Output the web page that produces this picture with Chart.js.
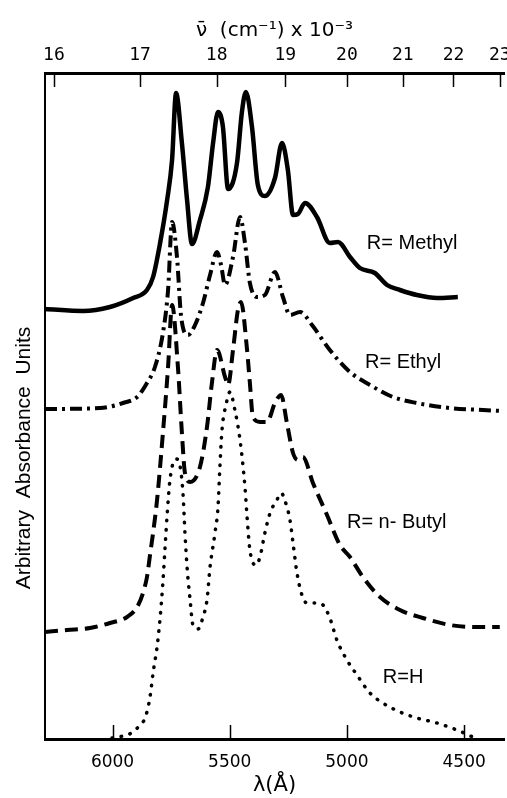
<!DOCTYPE html>
<html>
<head>
<meta charset="utf-8">
<script src="https://cdn.jsdelivr.net/npm/chart.js@4.4.1/dist/chart.umd.min.js"></script>
<style>
  html, body { margin: 0; padding: 0; background: #fff; }
  canvas { display: block; }
</style>
</head>
<body>
<canvas id="spectraChart" width="507" height="798"></canvas>
<script>
// wavelength (Angstrom) and absorbance (arbitrary units, curves are offset)
const methylWl  = [6288, 6126, 6011, 5912, 5853, 5827, 5797, 5767, 5746, 5729, 5704, 5682, 5661, 5627, 5593, 5571, 5550, 5529, 5507, 5469, 5448, 5431, 5405, 5380, 5350, 5307, 5277, 5252, 5230, 5209, 5179, 5128, 5073, 5038, 4987, 4945, 4881, 4829, 4774, 4702, 4616, 4527];
const methylAbs = [43.0, 42.8, 43.2, 44.1, 44.9, 46.2, 49.6, 53.9, 57.9, 64.6, 59.6, 53.9, 49.5, 51.9, 55.2, 59.6, 62.7, 61.2, 55.0, 57.6, 62.7, 64.7, 61.2, 55.4, 54.3, 56.1, 59.6, 56.9, 52.4, 52.5, 53.6, 52.2, 49.6, 49.7, 48.2, 47.1, 46.6, 45.4, 44.9, 44.4, 44.1, 44.2];

const ethylWl  = [6288, 6053, 5955, 5895, 5853, 5819, 5785, 5763, 5746, 5725, 5708, 5678, 5648, 5614, 5584, 5554, 5537, 5520, 5486, 5456, 5435, 5414, 5384, 5350, 5307, 5273, 5243, 5200, 5149, 5073, 4987, 4902, 4804, 4702, 4561, 4420, 4331];
const ethylAbs = [33.0, 33.1, 33.6, 34.2, 35.6, 37.2, 40.6, 44.9, 51.7, 48.2, 42.4, 40.4, 41.4, 43.6, 46.4, 48.7, 47.4, 45.4, 48.2, 52.2, 49.6, 45.6, 44.2, 44.4, 46.7, 44.2, 42.4, 42.7, 41.4, 38.9, 36.7, 35.4, 34.2, 33.6, 33.1, 32.9, 32.8];

const butylWl  = [6288, 6194, 6096, 6011, 5938, 5895, 5870, 5853, 5840, 5827, 5810, 5785, 5763, 5746, 5721, 5704, 5691, 5669, 5627, 5597, 5576, 5554, 5520, 5507, 5486, 5465, 5452, 5426, 5414, 5401, 5371, 5341, 5307, 5281, 5256, 5230, 5209, 5188, 5145, 5085, 5030, 4987, 4932, 4859, 4774, 4676, 4561, 4446, 4348];
const butylAbs = [10.7, 10.9, 11.1, 11.6, 12.2, 13.2, 14.6, 16.2, 18.4, 20.6, 23.9, 30.6, 37.2, 43.4, 37.2, 30.6, 26.6, 25.7, 27.2, 31.2, 35.6, 38.9, 36.2, 35.4, 38.9, 42.9, 43.7, 38.9, 35.6, 32.2, 31.7, 31.7, 33.6, 34.4, 31.6, 28.6, 27.9, 28.2, 25.6, 22.4, 19.4, 18.2, 16.2, 14.2, 12.9, 12.1, 11.4, 11.2, 11.2];

const hydrogenWl  = [6002, 5955, 5912, 5883, 5861, 5840, 5827, 5810, 5797, 5785, 5776, 5767, 5755, 5729, 5712, 5699, 5691, 5682, 5669, 5657, 5635, 5614, 5597, 5584, 5563, 5550, 5542, 5533, 5516, 5499, 5478, 5456, 5435, 5426, 5414, 5388, 5371, 5350, 5328, 5299, 5281, 5256, 5243, 5230, 5213, 5192, 5171, 5128, 5102, 5073, 5043, 5000, 4957, 4902, 4847, 4774, 4702, 4616, 4531, 4454];
const hydrogenAbs = [0.1, 0.3, 0.7, 1.4, 2.1, 4.2, 6.6, 9.2, 12.1, 15.7, 19.1, 22.4, 25.9, 28.0, 27.3, 24.4, 20.6, 17.2, 13.9, 11.4, 11.0, 12.2, 13.9, 17.2, 20.6, 23.2, 27.2, 30.9, 33.4, 34.7, 32.9, 29.9, 25.2, 22.2, 18.9, 17.4, 18.2, 20.6, 22.6, 23.9, 24.6, 23.2, 21.9, 19.6, 16.6, 14.4, 13.6, 13.6, 13.4, 12.1, 9.9, 7.9, 6.4, 4.6, 3.6, 2.7, 2.1, 1.6, 0.9, 0.1];

const curveNames = ['R= Methyl', 'R= Ethyl', 'R= n- Butyl', 'R=H'];
const wavelengthTicks = [6000, 5500, 5000, 4500];          // Angstrom
const wavenumberTicks = [16, 17, 18, 19, 20, 21, 22, 23];  // cm-1 x 10^-3

const toPoints = (xs, ys) => xs.map((x, i) => ({ x: x, y: ys[i] }));
// 10^3 cm-1  <->  Angstrom
const toAngstrom = (k) => 1e5 / k;

// where the curve names sit (wavelength, absorbance of the text's left-middle)
const nameSpots = [[4915, 49.6], [4923, 37.7], [5000, 21.7], [4847, 6.2]];

const decorPlugin = {
    id: 'decor',
    afterDraw(chart) {
        const c = chart.ctx;
        const area = chart.chartArea;
        const xs = chart.scales.x;
        const ys = chart.scales.y;
        c.save();
        c.strokeStyle = '#000';
        c.lineWidth = 1.5;
        // inward tick marks
        wavelengthTicks.forEach(w => {
            const px = Math.round(xs.getPixelForValue(w)) + 0.5;
            c.beginPath();
            c.moveTo(px, area.bottom);
            c.lineTo(px, area.bottom - 14);
            c.stroke();
        });
        wavenumberTicks.forEach(n => {
            const px = Math.round(xs.getPixelForValue(toAngstrom(n))) + 0.5;
            c.beginPath();
            c.moveTo(px, area.top);
            c.lineTo(px, area.top + 14);
            c.stroke();
        });
        // curve names
        c.fillStyle = '#000';
        c.font = '20px "Liberation Sans", Arial, sans-serif';
        c.textAlign = 'left';
        c.textBaseline = 'middle';
        curveNames.forEach((name, i) => {
            c.fillText(name, xs.getPixelForValue(nameSpots[i][0]), ys.getPixelForValue(nameSpots[i][1]));
        });
        // y axis title
        c.translate(24, 458);
        c.rotate(-Math.PI / 2);
        c.textAlign = 'center';
        c.font = '21px "Liberation Sans", Arial, sans-serif';
        c.fillText('Arbitrary  Absorbance  Units', 0, 0);
        c.restore();
    }
};

const ctx = document.getElementById('spectraChart').getContext('2d');

const spectraChart = new Chart(ctx, {
    type: 'line',
    data: {
        datasets: [
            {
                label: curveNames[0],
                data: toPoints(methylWl, methylAbs),
                borderColor: '#000',
                borderWidth: 4.5,
            },
            {
                label: curveNames[1],
                data: toPoints(ethylWl, ethylAbs),
                borderColor: '#000',
                borderWidth: 4,
                borderDash: [12, 5, 3, 5],
            },
            {
                label: curveNames[2],
                data: toPoints(butylWl, butylAbs),
                borderColor: '#000',
                borderWidth: 4,
                borderDash: [13, 7],
            },
            {
                label: curveNames[3],
                data: toPoints(hydrogenWl, hydrogenAbs),
                borderColor: '#000',
                borderWidth: 3.5,
                borderDash: [0.5, 8.7],
                borderCapStyle: 'round',
            }
        ]
    },
    options: {
        responsive: false,
        animation: false,
        parsing: false,
        layout: { padding: { right: 3 } },
        elements: {
            point: { radius: 0 },
            line: { cubicInterpolationMode: 'monotone', fill: false }
        },
        plugins: {
            legend: { display: false },
            tooltip: { enabled: false }
        },
        scales: {
            x: {
                type: 'linear',
                position: 'bottom',
                reverse: true,
                min: 4330,
                max: 6288,
                afterBuildTicks: (scale) => {
                    scale.ticks = wavelengthTicks.map(v => ({ value: v }));
                },
                afterFit: (scale) => {
                    scale.height = 59;
                    scale.paddingLeft = 0;
                    scale.paddingRight = 0;
                },
                grid: { display: false, drawTicks: false },
                border: { display: true, color: '#000', width: 3 },
                ticks: {
                    color: '#000',
                    padding: 13,
                    maxRotation: 0,
                    font: { family: '"DejaVu Sans", sans-serif', size: 17 },
                    callback: (v) => String(v)
                },
                title: {
                    display: true,
                    text: 'λ(Å)',
                    color: '#000',
                    padding: { top: 0, bottom: 0 },
                    font: { family: '"DejaVu Sans", sans-serif', size: 21 }
                }
            },
            x2: {
                type: 'linear',
                position: 'top',
                reverse: true,
                min: 4330,
                max: 6288,
                afterBuildTicks: (scale) => {
                    scale.ticks = wavenumberTicks.map(n => ({ value: toAngstrom(n) }));
                },
                afterFit: (scale) => {
                    scale.height = 73;
                    scale.paddingLeft = 0;
                    scale.paddingRight = 0;
                },
                grid: { display: false, drawTicks: false },
                border: { display: true, color: '#000', width: 3 },
                ticks: {
                    autoSkip: false,
                    color: '#000',
                    padding: 7,
                    maxRotation: 0,
                    font: { family: '"DejaVu Sans Mono", monospace', size: 18 },
                    callback: (v) => String(Math.round(1e5 / v))
                },
                title: {
                    display: true,
                    text: 'ν\u0304  (cm\u207B\u00B9) x 10\u207B\u00B3',
                    color: '#000',
                    padding: { top: 19, bottom: 0 },
                    font: { family: '"DejaVu Sans", sans-serif', size: 20 }
                }
            },
            y: {
                type: 'linear',
                position: 'left',
                min: 0,
                max: 66.6,
                afterFit: (scale) => { scale.width = 45; },
                grid: { display: false, drawTicks: false },
                border: { display: true, color: '#000', width: 2 },
                ticks: { display: false }
            }
        }
    },
    plugins: [decorPlugin]
});
</script>
</body>
</html>
